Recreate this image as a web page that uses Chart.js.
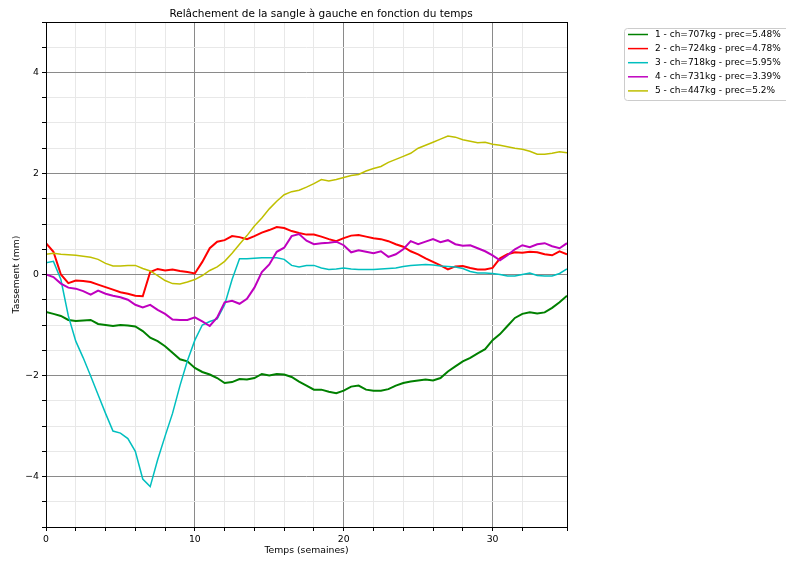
<!DOCTYPE html>
<html>
<head>
<meta charset="utf-8">
<script src="https://cdn.jsdelivr.net/npm/chart.js@4.4.0/dist/chart.umd.min.js"></script>
<style>
  html, body { margin: 0; padding: 0; background: #fff; }
  #wrap { width: 786px; height: 562px; }
</style>
</head>
<body>
<div id="wrap"><canvas id="chart" width="786" height="562"></canvas></div>
<script>
// temps en semaines
const weeks = [0,0.5,1,1.5,2,2.5,3,3.5,4,4.5,5,5.5,6,6.5,7,7.5,8,8.5,9,9.5,
  10,10.5,11,11.5,12,12.5,13,13.5,14,14.5,15,15.5,16,16.5,17,17.5,18,18.5,19,19.5,
  20,20.5,21,21.5,22,22.5,23,23.5,24,24.5,25,25.5,26,26.5,27,27.5,28,28.5,29,29.5,
  30,30.5,31,31.5,32,32.5,33,33.5,34,34.5,35];

// tassement (mm) par sangle
const sangle1 = [-0.74,-0.78,-0.82,-0.9,-0.92,-0.91,-0.9,-0.98,-1.0,-1.02,
  -1.0,-1.01,-1.03,-1.12,-1.25,-1.32,-1.42,-1.55,-1.68,-1.72,
  -1.85,-1.93,-1.98,-2.05,-2.15,-2.13,-2.07,-2.08,-2.05,-1.97,
  -2.0,-1.97,-1.98,-2.03,-2.12,-2.2,-2.28,-2.28,-2.32,-2.35,
  -2.3,-2.22,-2.2,-2.28,-2.3,-2.3,-2.27,-2.2,-2.15,-2.12,
  -2.1,-2.08,-2.1,-2.05,-1.92,-1.82,-1.72,-1.65,-1.56,-1.48,
  -1.3,-1.18,-1.02,-0.86,-0.78,-0.75,-0.77,-0.75,-0.66,-0.55,-0.42];
const sangle2 = [0.62,0.45,0.0,-0.17,-0.12,-0.13,-0.15,-0.2,-0.25,-0.3,
  -0.35,-0.38,-0.42,-0.43,0.05,0.11,0.08,0.1,0.07,0.05,
  0.02,0.25,0.52,0.65,0.68,0.76,0.74,0.7,0.76,0.83,
  0.88,0.94,0.92,0.86,0.82,0.79,0.79,0.75,0.7,0.66,
  0.72,0.77,0.78,0.75,0.72,0.7,0.66,0.6,0.55,0.46,
  0.4,0.32,0.25,0.18,0.1,0.16,0.17,0.13,0.1,0.1,
  0.13,0.32,0.4,0.44,0.43,0.45,0.44,0.4,0.38,0.46,0.4];
const sangle3 = [0.23,0.26,-0.1,-0.82,-1.32,-1.65,-2.01,-2.38,-2.75,-3.1,
  -3.14,-3.25,-3.5,-4.05,-4.2,-3.67,-3.2,-2.75,-2.2,-1.71,
  -1.3,-1.0,-0.93,-0.88,-0.6,-0.1,0.31,0.31,0.32,0.33,
  0.33,0.33,0.3,0.18,0.15,0.18,0.18,0.13,0.1,0.11,
  0.13,0.11,0.1,0.1,0.1,0.11,0.12,0.13,0.16,0.18,
  0.19,0.2,0.19,0.17,0.16,0.15,0.12,0.06,0.03,0.03,
  0.02,0.0,-0.03,-0.03,0.0,0.03,-0.02,-0.03,-0.03,0.02,0.11];
const sangle4 = [0.0,-0.05,-0.18,-0.26,-0.28,-0.33,-0.4,-0.32,-0.38,-0.42,
  -0.45,-0.5,-0.6,-0.65,-0.6,-0.7,-0.78,-0.89,-0.9,-0.9,
  -0.85,-0.93,-1.02,-0.85,-0.55,-0.52,-0.58,-0.48,-0.26,0.05,
  0.2,0.45,0.53,0.76,0.8,0.67,0.6,0.62,0.63,0.65,
  0.58,0.44,0.48,0.45,0.42,0.46,0.35,0.4,0.5,0.66,
  0.6,0.65,0.7,0.64,0.68,0.6,0.57,0.58,0.52,0.46,
  0.38,0.28,0.38,0.5,0.58,0.54,0.6,0.62,0.56,0.52,0.62];
const sangle5 = [0.4,0.42,0.4,0.39,0.38,0.36,0.34,0.3,0.22,0.17,
  0.17,0.18,0.18,0.12,0.07,-0.02,-0.12,-0.18,-0.19,-0.15,
  -0.1,-0.02,0.08,0.15,0.26,0.42,0.6,0.77,0.96,1.12,
  1.3,1.45,1.58,1.64,1.67,1.73,1.8,1.88,1.85,1.88,
  1.92,1.96,1.98,2.05,2.1,2.14,2.22,2.28,2.34,2.4,
  2.5,2.56,2.62,2.68,2.74,2.72,2.67,2.64,2.61,2.62,
  2.58,2.56,2.53,2.5,2.48,2.44,2.38,2.38,2.4,2.43,2.41];

const labels = [
  '1 - ch=707kg - prec=5.48%',
  '2 - ch=724kg - prec=4.78%',
  '3 - ch=718kg - prec=5.95%',
  '4 - ch=731kg - prec=3.39%',
  '5 - ch=447kg - prec=5.2%'
];
const colors = ['#008000', '#ff0000', '#00bfbf', '#bf00bf', '#bfbf00'];
const widths = [2, 2, 1.5, 2, 1.5];
const series = [sangle1, sangle2, sangle3, sangle4, sangle5];

const FONT = '"DejaVu Sans", sans-serif';

const datasets = series.map((vals, i) => ({
  label: labels[i],
  data: vals.map((v, k) => ({ x: weeks[k], y: v })),
  borderColor: colors[i],
  borderWidth: widths[i],
  pointRadius: 0,
  tension: 0,
  fill: false,
  order: series.length - i
}));

// cadre, titre, légende et titres d'axes
const decorations = {
  id: 'decorations',
  afterDraw(chart) {
    const ctx = chart.ctx;
    const a = chart.chartArea;
    ctx.save();
    ctx.strokeStyle = '#000';
    ctx.lineWidth = 1;
    ctx.strokeRect(Math.round(a.left) + 0.5, Math.round(a.top) + 0.5,
      Math.round(a.right - a.left), Math.round(a.bottom - a.top));

    ctx.fillStyle = '#000';
    ctx.textAlign = 'center';
    ctx.textBaseline = 'middle';
    ctx.font = '10.5px ' + FONT;
    ctx.fillText('Relâchement de la sangle à gauche en fonction du temps', 321, 14);
    ctx.font = '9.3px ' + FONT;
    ctx.fillText('Temps (semaines)', (a.left + a.right) / 2, 551);
    ctx.save();
    ctx.translate(17, (a.top + a.bottom) / 2);
    ctx.rotate(-Math.PI / 2);
    ctx.fillText('Tassement (mm)', 0, 0);
    ctx.restore();

    // légende
    const lx = 624.5, ly = 28.5, lw = 170, lh = 72;
    ctx.fillStyle = '#fff';
    ctx.strokeStyle = '#cccccc';
    ctx.lineWidth = 1;
    ctx.beginPath();
    ctx.roundRect(lx, ly, lw, lh, 3);
    ctx.fill();
    ctx.stroke();
    ctx.textAlign = 'left';
    ctx.font = '9px ' + FONT;
    labels.forEach((t, i) => {
      const y = 34.5 + i * 14.1;
      ctx.strokeStyle = colors[i];
      ctx.lineWidth = 1.5;
      ctx.beginPath();
      ctx.moveTo(628, y);
      ctx.lineTo(648, y);
      ctx.stroke();
      ctx.fillStyle = '#000';
      ctx.fillText(t, 655, y);
    });
    ctx.restore();
  }
};

new Chart(document.getElementById('chart'), {
  type: 'line',
  data: { datasets },
  options: {
    responsive: false,
    animation: false,
    layout: { padding: { top: 22, right: 219, left: 0, bottom: 0 } },
    plugins: { legend: { display: false }, tooltip: { enabled: false }, title: { display: false } },
    scales: {
      x: {
        type: 'linear', min: 0, max: 35,
        afterFit: s => { s.height = 35; },
        border: { display: false },
        grid: {
          color: c => (c.tick && c.tick.value % 10 === 0 ? '#8a8a8a' : '#e8e8e8'),
          tickColor: '#000', tickLength: 4, lineWidth: 1
        },
        ticks: {
          stepSize: 2, autoSkip: false, maxRotation: 0, padding: 3,
          color: '#000', font: { family: FONT, size: 9.3 },
          callback: v => (v % 10 === 0 ? String(v) : '')
        }
      },
      y: {
        type: 'linear', min: -5, max: 5,
        afterFit: s => { s.width = 46; },
        border: { display: false },
        grid: {
          color: c => (c.tick && c.tick.value % 2 === 0 && Math.abs(c.tick.value) < 5 ? '#8a8a8a' : '#e8e8e8'),
          tickColor: '#000', tickLength: 4, lineWidth: 1
        },
        ticks: {
          stepSize: 0.5, autoSkip: false, padding: 3,
          color: '#000', font: { family: FONT, size: 9.3 },
          callback: v => (v % 2 === 0 && Math.abs(v) < 5 ? String(v).replace('-', '\u2212') : '')
        }
      }
    }
  }
  ,
  plugins: [decorations]
});
</script>
</body>
</html>
